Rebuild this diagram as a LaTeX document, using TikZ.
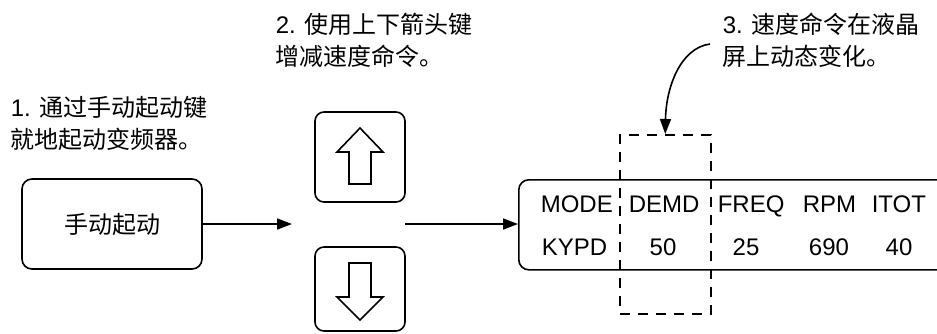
\documentclass[tikz,border=0pt]{standalone}
\usepackage{fontspec}
\setmainfont{Liberation Sans}
\newfontfamily\cjk{Noto Sans CJK SC}
\usetikzlibrary{arrows.meta}
\begin{document}
\begin{tikzpicture}[x=1pt,y=-1pt,
  line width=1.6pt,
  note/.style={inner sep=0pt,anchor=north west,align=left,
    font=\fontsize{24}{32}\selectfont},
  keybox/.style={draw,rounded corners=9pt,minimum width=90pt,minimum height=90pt,inner sep=0pt},
  bigbox/.style={draw,rounded corners=10pt,inner sep=0pt},
  lcdtxt/.style={inner sep=0pt,anchor=base west,font=\fontsize{24}{28}\selectfont},
  lcdnum/.style={inner sep=0pt,anchor=base,font=\fontsize{24}{28}\selectfont},
  tip/.style={-{Triangle[length=15pt,width=11pt]}},
  guide/.style={dashed,dash pattern=on 10pt off 8pt,line width=1.5pt}]
\useasboundingbox (0,0) rectangle (937,333);
\clip (0,0) rectangle (937,333);

% explanatory notes
\node[note] (n1) at (10,95) {1. {\cjk 通过手动起动键}\\{\cjk 就地起动变频器。}};
\node[note] (n2) at (275,12) {2. {\cjk 使用上下箭头键}\\{\cjk 增减速度命令。}};
\node[note] (n3) at (722,12) {3. {\cjk 速度命令在液晶}\\{\cjk 屏上动态变化。}};

% start key
\node[bigbox,minimum width=180pt,minimum height=90pt,font=\fontsize{24}{28}\selectfont\cjk]
  (start) at (112,224) {手动起动};

% up / down keys
\node[keybox] (up) at (360,157) {};
\node[keybox,minimum height=84pt] (down) at (360,289) {};
\begin{scope}[shift={(up.center)}]
  \draw (0,-29) -- (23,-5) -- (11,-5) -- (11,27) -- (-11,27) -- (-11,-5) -- (-23,-5) -- cycle;
\end{scope}
\begin{scope}[shift={(down.center)}]
  \draw (0,31) -- (23,8) -- (11,8) -- (11,-26) -- (-11,-26) -- (-11,8) -- (-23,8) -- cycle;
\end{scope}

% display panel
\node[bigbox,minimum width=450pt,minimum height=90pt,anchor=north west] (lcd) at (518,179) {};
\node[lcdtxt] (h1) at (540,212) {MODE};
\node[lcdtxt] (h2) at (628,212) {DEMD};
\node[lcdtxt] (h3) at (717,212) {FREQ};
\node[lcdtxt] (h4) at (802,212) {RPM};
\node[lcdtxt] (h5) at (871,212) {ITOT};
\node[lcdtxt] (v1) at (541,255) {KYPD};
\node[lcdnum] (v2) at (663,255) {50};
\node[lcdnum] (v3) at (746,255) {25};
\node[lcdnum] (v4) at (829,255) {690};
\node[lcdnum] (v5) at (899,255) {40};

% highlighted column
\node[draw,guide,minimum width=91pt,minimum height=179pt,anchor=north west,inner sep=0pt]
  (sel) at (619,134) {};

% connectors
\coordinate (keyin) at (292,224);
\coordinate (keyout) at (405,224);
\draw[tip] (start.east |- keyin) -- (keyin);
\draw[tip] (keyout) -- (lcd.west |- keyout);
\coordinate (callout) at (710,44);
\draw[tip] (callout) .. controls (680,48) and (666,88) .. (sel.north);
\end{tikzpicture}
\end{document}
